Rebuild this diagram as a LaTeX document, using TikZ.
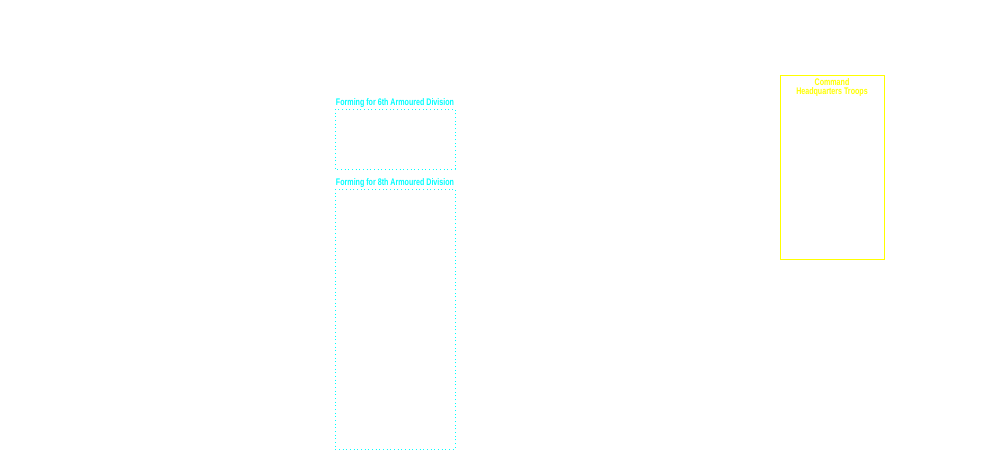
\documentclass[tikz,border=0pt]{standalone}
\usepackage{fontspec}
\setmainfont{Liberation Sans}
\definecolor{aqua}{RGB}{0,255,255}
\definecolor{yel}{RGB}{255,255,0}
\begin{document}
\begin{tikzpicture}[x=0.75pt,y=-0.75pt,
  fbox/.style={draw=aqua,dotted,line width=0.75pt},
  ybox/.style={draw=yel,line width=0.75pt},
  lbl/.style={inner sep=0pt,font=\fontsize{7.2}{8}\selectfont\bfseries,transform shape,xscale=0.74,align=center}]
\useasboundingbox (0,0) rectangle (1000,450);
\draw[fbox] (335,109) rectangle (455,169);
\node[lbl,text=aqua] (l6) at (395,103) {Forming for 6th Armoured Division};
\draw[fbox] (335,189) rectangle (455,449);
\node[lbl,text=aqua] (l8) at (395,183) {Forming for 8th Armoured Division};
\draw[ybox] (780,75) rectangle (884,259);
\node[lbl,text=yel] (cq) at (832,87.5) {Command\\[-1pt]Headquarters Troops};
\end{tikzpicture}
\end{document}
